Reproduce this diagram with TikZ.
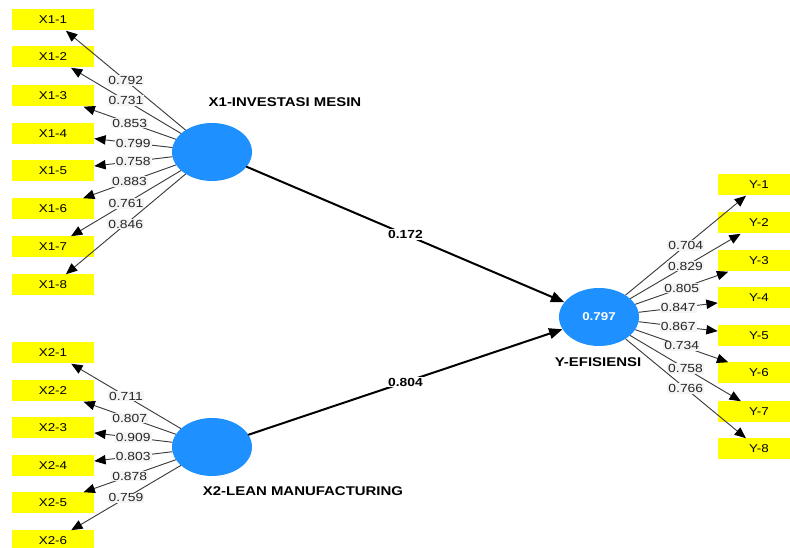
\documentclass[tikz,border=0pt]{standalone}
\usepackage{fontspec}
\setmainfont{Liberation Sans}[FakeStretch=1.18]
\usetikzlibrary{arrows.meta,shapes.geometric}
\definecolor{lvblue}{RGB}{30,144,255}
\definecolor{mvyellow}{RGB}{255,255,0}
\definecolor{wtgray}{RGB}{244,244,244}
\definecolor{indgray}{RGB}{60,60,60}

\begin{document}
\begin{tikzpicture}[line cap=round,line join=round,x=0.75pt,y=-0.75pt,
  lv/.style={ellipse,fill=lvblue,minimum width=60pt,minimum height=43.5pt,inner sep=0pt,
    text=white,font=\fontsize{8.5}{10}\selectfont\bfseries},
  mv/.style={rectangle,fill=mvyellow,minimum width=61.5pt,minimum height=15.75pt,inner sep=0pt,
    font=\fontsize{8.5}{10}\selectfont},
  lvname/.style={font=\fontsize{9.5}{11}\selectfont\bfseries},
  ind/.style={draw=indgray,line width=0.7pt,-{Triangle[length=8.5pt,width=7pt,color=black]}},
  inner/.style={draw=black,line width=1.5pt,-{Triangle[length=10pt,width=8pt]}},
  wt/.style={fill=wtgray,inner sep=0.8pt,text=black!85,font=\fontsize{8.8}{10}\selectfont},
  pwt/.style={fill=white,inner sep=1pt,font=\fontsize{8.8}{10}\selectfont\bfseries}]
\clip(0,0) rectangle (790,548);
% latent variables
\node[lv] (x1) at (212,152) {};
\node[lv] (x2) at (212,447) {};
\node[lv] (y) at (599,317) {0.797};
\node[lvname] (x1name) at (285,102) {X1-INVESTASI MESIN};
\node[lvname] (x2name) at (303,491) {X2-LEAN MANUFACTURING};
\node[lvname] (yname) at (598,362) {Y-EFISIENSI};
% indicators X1
\node[mv] (x11) at (53,20) {X1-1};
\node[mv] (x12) at (53,57) {X1-2};
\node[mv] (x13) at (53,96) {X1-3};
\node[mv] (x14) at (53,134) {X1-4};
\node[mv] (x15) at (53,171) {X1-5};
\node[mv] (x16) at (53,209) {X1-6};
\node[mv] (x17) at (53,247) {X1-7};
\node[mv] (x18) at (53,285) {X1-8};
% indicators X2
\node[mv] (x21) at (53,353) {X2-1};
\node[mv] (x22) at (53,391) {X2-2};
\node[mv] (x23) at (53,428) {X2-3};
\node[mv] (x24) at (53,466) {X2-4};
\node[mv] (x25) at (53,503) {X2-5};
\node[mv] (x26) at (53,541) {X2-6};
% indicators Y
\node[mv] (y1) at (759,185) {Y-1};
\node[mv] (y2) at (759,223) {Y-2};
\node[mv] (y3) at (759,261) {Y-3};
\node[mv] (y4) at (759,298) {Y-4};
\node[mv] (y5) at (759,336) {Y-5};
\node[mv] (y6) at (759,373) {Y-6};
\node[mv] (y7) at (759,412) {Y-7};
\node[mv] (y8) at (759,449) {Y-8};
% outer loadings
\draw[ind] (x1) -- node[wt] {0.792} (x11);
\draw[ind] (x1) -- node[wt] {0.731} (x12);
\draw[ind] (x1) -- node[wt] {0.853} (x13);
\draw[ind] (x1) -- node[wt] {0.799} (x14);
\draw[ind] (x1) -- node[wt] {0.758} (x15);
\draw[ind] (x1) -- node[wt] {0.883} (x16);
\draw[ind] (x1) -- node[wt] {0.761} (x17);
\draw[ind] (x1) -- node[wt] {0.846} (x18);
\draw[ind] (x2) -- node[wt] {0.711} (x21);
\draw[ind] (x2) -- node[wt] {0.807} (x22);
\draw[ind] (x2) -- node[wt] {0.909} (x23);
\draw[ind] (x2) -- node[wt] {0.803} (x24);
\draw[ind] (x2) -- node[wt] {0.878} (x25);
\draw[ind] (x2) -- node[wt] {0.759} (x26);
\draw[ind] (y) -- node[wt] {0.704} (y1);
\draw[ind] (y) -- node[wt] {0.829} (y2);
\draw[ind] (y) -- node[wt] {0.805} (y3);
\draw[ind] (y) -- node[wt] {0.847} (y4);
\draw[ind] (y) -- node[wt] {0.867} (y5);
\draw[ind] (y) -- node[wt] {0.734} (y6);
\draw[ind] (y) -- node[wt] {0.758} (y7);
\draw[ind] (y) -- node[wt] {0.766} (y8);
% path coefficients
\draw[inner] (x1) -- node[pwt] {0.172} (y);
\draw[inner] (x2) -- node[pwt] {0.804} (y);
\end{tikzpicture}
\end{document}
